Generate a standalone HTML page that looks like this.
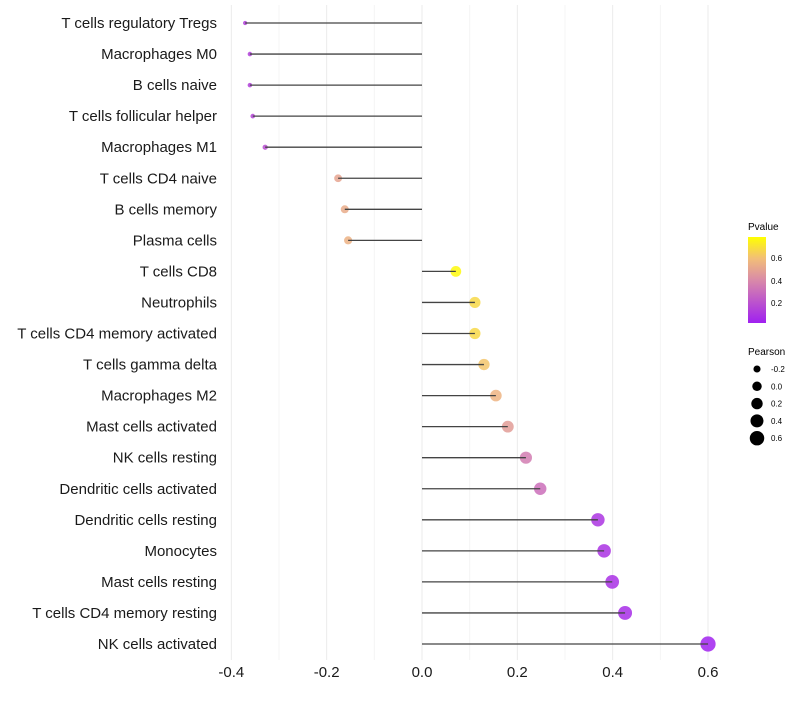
<!DOCTYPE html>
<html><head><meta charset="utf-8"><style>
body{margin:0;background:#fff;}
svg{font-family:"Liberation Sans",sans-serif;}
</style></head><body>
<svg id="chart" width="800" height="700">
<defs>
<linearGradient id="pg" x1="0" y1="1" x2="0" y2="0">
<stop offset="0" stop-color="#A020F0"/>
<stop offset="0.5" stop-color="#D98AA8"/>
<stop offset="0.75" stop-color="#F2BE78"/>
<stop offset="1" stop-color="#FFFF00"/>
</linearGradient>
</defs>
<g id="grid"></g>
<g id="points"></g>
<g id="marks"></g>
<g id="labels"></g>
<g id="xt"></g>
<g>
<text x="748" y="230" font-size="10">Pvalue</text>
<rect x="748" y="237" width="18" height="86" fill="url(#pg)"/>
<text x="771" y="261" font-size="8">0.6</text>
<text x="771" y="284" font-size="8">0.4</text>
<text x="771" y="306" font-size="8">0.2</text>
</g>
<g id="sizeleg">
<text x="748" y="355" font-size="10">Pearson</text>
</g>
</svg>
<script>
const cells=["T cells regulatory  Tregs","Macrophages M0","B cells naive","T cells follicular helper","Macrophages M1","T cells CD4 naive","B cells memory","Plasma cells","T cells CD8","Neutrophils","T cells CD4 memory activated","T cells gamma delta","Macrophages M2","Mast cells activated","NK cells resting","Dendritic cells activated","Dendritic cells resting","Monocytes","Mast cells resting","T cells CD4 memory resting","NK cells activated"];
const pearson=[-0.371,-0.361,-0.361,-0.355,-0.329,-0.176,-0.162,-0.155,0.071,0.111,0.111,0.130,0.155,0.180,0.218,0.248,0.369,0.382,0.399,0.426,0.600];
const pvalue=[0.12,0.12,0.12,0.14,0.17,0.5,0.53,0.55,0.78,0.68,0.68,0.62,0.56,0.47,0.35,0.3,0.08,0.07,0.06,0.05,0.01];
const xTicks=[-0.4,-0.2,0,0.2,0.4,0.6];
const sizeLegend=[-0.2,0,0.2,0.4,0.6];
const NS="http://www.w3.org/2000/svg";
const x=v=>422+v*476.7;
const y=i=>23+i*31.05;
const r=v=>Math.sqrt(Math.max(2,25+55*v));
function lerp(a,b,t){return a.map((c,i)=>Math.round(c+(b[i]-c)*t));}
const stops=[[0,[160,32,240]],[0.4,[217,138,168]],[0.6,[242,190,120]],[0.8,[255,255,0]]];
function col(p){p=Math.max(0,Math.min(0.8,p));for(let i=0;i<stops.length-1;i++){if(p<=stops[i+1][0]){const t=(p-stops[i][0])/(stops[i+1][0]-stops[i][0]);return "rgb("+lerp(stops[i][1],stops[i+1][1],t).join(",")+")";}}return "rgb(255,255,0)";}
function mk(tag,attrs,parent){const e=document.createElementNS(NS,tag);for(const k in attrs)e.setAttribute(k,attrs[k]);parent.appendChild(e);return e;}
const grid=document.getElementById('grid');
for(let v=-0.4;v<=0.61;v+=0.1){const g=mk('line',{x1:x(v),x2:x(v),y1:5,y2:660,stroke:Math.abs(Math.round(v*10))%2==0?'#ebebeb':'#f4f4f4','stroke-width':1},grid);

}
const marks=document.getElementById('marks'),pts=document.getElementById('points'),labels=document.getElementById('labels');
cells.forEach((c,i)=>{
const p=mk('circle',{cx:x(pearson[i]),cy:y(i),r:r(pearson[i]),fill:col(pvalue[i]),'fill-opacity':0.85},pts);


const l=mk('line',{x1:x(0),x2:x(pearson[i]),y1:y(i),y2:y(i),stroke:'#444','stroke-width':1.3},marks);


const t=mk('text',{x:217,y:y(i)+5,'text-anchor':'end','font-size':15,fill:'#1a1a1a'},labels);t.textContent=c;


});
const xt=document.getElementById('xt');
xTicks.forEach(v=>{const t=mk('text',{x:x(v),y:677,'text-anchor':'middle','font-size':15,fill:'#1a1a1a'},xt);t.textContent=(v===0?'0.0':v.toFixed(1));

});
const sl=document.getElementById('sizeleg');
sizeLegend.forEach((v,i)=>{const cy=369+i*17.3;
const c=mk('circle',{cx:757,cy:cy,r:r(v)*0.95,fill:'#000'},sl);


const t=mk('text',{x:771,y:cy+3,'font-size':8},sl);t.textContent=v.toFixed(1);

});
</script>
</body></html>
